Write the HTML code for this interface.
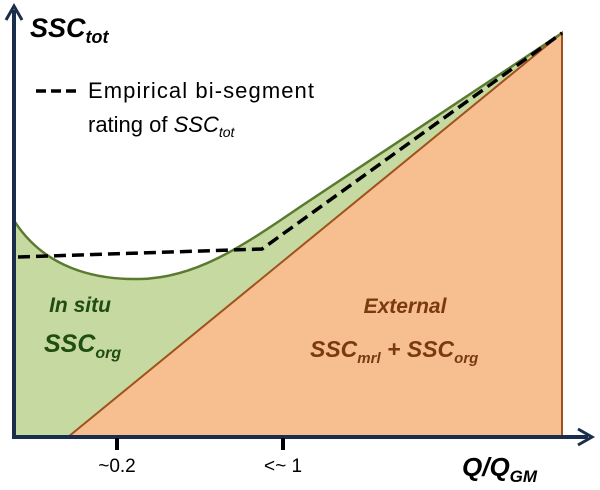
<!DOCTYPE html>
<html><head><meta charset="utf-8"><style>
html,body{margin:0;padding:0;background:#fff;width:600px;height:490px;overflow:hidden}
svg text{font-family:"Liberation Sans",sans-serif}
.b{font-weight:bold}
</style></head><body>
<svg width="600" height="490" viewBox="0 0 600 490">
<path d="M15,222 C45,268 95,280 140,279 C195,278 240,248 300,207 L562,33 L562,437 L15,437 Z" fill="#c5d9a1"/>
<path d="M68,437 L562,33 L562,437 Z" fill="#f7be90"/>
<path d="M68,437 L562,33 L562,437" fill="none" stroke="#a0521d" stroke-width="2"/>
<path d="M15,222 C45,268 95,280 140,279 C195,278 240,248 300,207 L562,33" fill="none" stroke="#5a7a30" stroke-width="2.5"/>
<path d="M18,257 L262,249 L562,33" fill="none" stroke="#000" stroke-width="3.5" stroke-dasharray="12,6"/>
<line x1="14" y1="438" x2="14" y2="10" stroke="#1a2d4a" stroke-width="4"/>
<path d="M6,20 L14,6 L22,20" fill="none" stroke="#1a2d4a" stroke-width="3"/>
<line x1="12" y1="437" x2="588" y2="437" stroke="#1a2d4a" stroke-width="4"/>
<path d="M578,429 L592,437 L578,445" fill="none" stroke="#1a2d4a" stroke-width="3"/>
<line x1="117" y1="438" x2="117" y2="450" stroke="#000" stroke-width="4"/>
<line x1="283" y1="438" x2="283" y2="450" stroke="#000" stroke-width="4"/>
<text x="117" y="472" font-size="19" text-anchor="middle">~0.2</text>
<text x="283" y="472" font-size="19" text-anchor="middle">&lt;~ 1</text>
<text class="b" x="462" y="476" font-size="26" font-style="italic">Q/Q<tspan font-size="17" dy="6">GM</tspan></text>
<text class="b" x="30" y="37" font-size="27" font-style="italic">SSC<tspan font-size="18" dy="6">tot</tspan></text>
<line x1="36" y1="91" x2="78" y2="91" stroke="#000" stroke-width="3.5" stroke-dasharray="10,5"/>
<text x="88" y="98" font-size="22" textLength="226">Empirical bi-segment</text>
<text x="88" y="132" font-size="22">rating of <tspan font-style="italic">SSC</tspan><tspan font-style="italic" font-size="14" dy="5">tot</tspan></text>
<text class="b" x="80" y="312" font-size="21" font-style="italic" fill="#1f4d12" text-anchor="middle">In situ</text>
<text class="b" x="44" y="352" font-size="25" font-style="italic" fill="#1f4d12">SSC<tspan font-size="16" dy="6">org</tspan></text>
<text class="b" x="405" y="313" font-size="21" font-style="italic" fill="#7a3a10" text-anchor="middle">External</text>
<text class="b" x="310" y="357" font-size="23" font-style="italic" fill="#7a3a10">SSC<tspan font-size="15" dy="6">mrl</tspan><tspan dy="-6"> + SSC</tspan><tspan font-size="15" dy="6">org</tspan></text>
</svg>
</body></html>
